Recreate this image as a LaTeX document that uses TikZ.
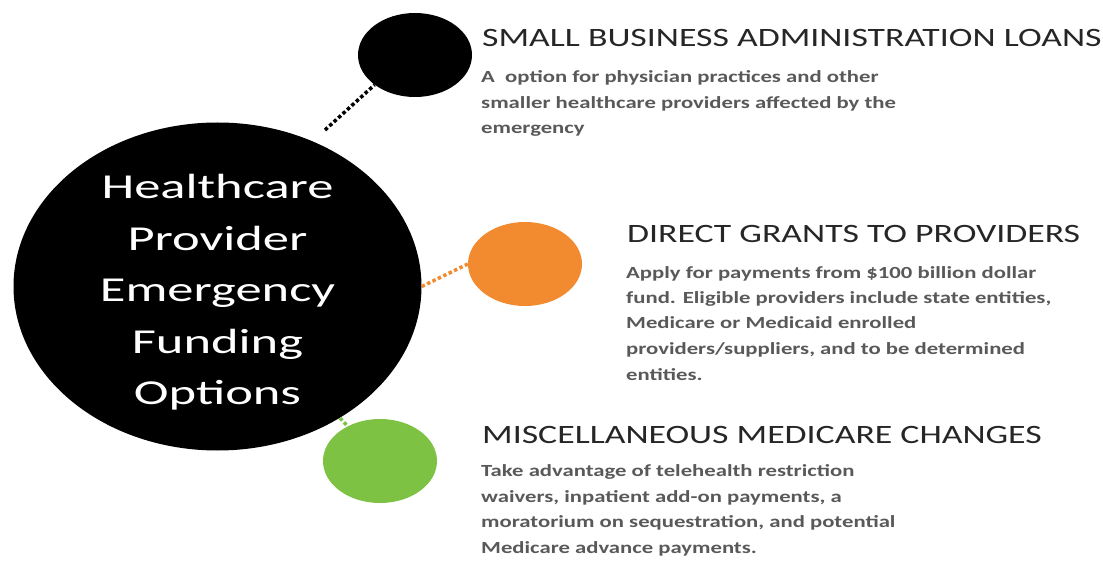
\documentclass[tikz,border=0pt]{standalone}
\usepackage{fontspec}
\setmainfont{Carlito}
\newfontfamily\headfont[FakeStretch=1.35]{Carlito}
\newfontfamily\bodyfont[FakeStretch=1.335]{Carlito}
\newfontfamily\titlefont[FakeStretch=1.5]{Carlito}
\usetikzlibrary{shapes.geometric,positioning}
\definecolor{grantorange}{HTML}{F28B30}
\definecolor{miscgreen}{HTML}{7DC242}
\definecolor{bodygray}{HTML}{595959}
\definecolor{headgray}{HTML}{262626}

\begin{document}
\begin{tikzpicture}[x=1pt,y=-1pt,
    big node/.style={ellipse,fill=black,inner sep=0,minimum width=408pt,minimum height=328pt},
    small node/.style={ellipse,inner sep=0,minimum width=114pt,minimum height=84pt},
    title text/.style={text=white,align=center,inner sep=0,font=\titlefont\fontsize{35}{51.5}\selectfont},
    head text/.style={anchor=base west,inner sep=0,text=headgray,font=\headfont\fontsize{26.5}{26.5}\selectfont},
    body text/.style={anchor=base west,inner sep=0,align=left,text=bodygray,font=\bodyfont\bfseries\fontsize{17}{25.5}\selectfont},
    dot line/.style={line width=3.5pt,dash pattern=on 3.5pt off 2.5pt}]

    \useasboundingbox (0,0) rectangle (1103,561);

    % circles
    \node[big node] (main) at (217.5,286.5) {};
    \node[title text] (title) at ([yshift=-6pt]main.center) {Healthcare\\Provider\\Emergency\\Funding\\Options};
    \node[small node,fill=black] (sba) at (415,55) {};
    \node[small node,fill=grantorange] (grants) at (525,264) {};
    \node[small node,fill=miscgreen] (misc) at (380,461) {};

    % connectors
    \coordinate (sbastart) at (325,130);
    \draw[dot line,black] (sbastart) -- (sba.south west);
    \draw[dot line,grantorange] (main.east) -- (grants.west);
    \draw[dot line,miscgreen] (main) -- (misc);

    % texts (body nodes sit on the baseline of their last line)
    \node[head text] (sbahead) at (482,47) {SMALL BUSINESS ADMINISTRATION LOANS};
    \node[body text] (sbabody) at (481,134) {A\ \ option for physician practices and other\\smaller healthcare providers affected by the\\emergency};

    \node[head text] (granthead) at (627,243) {DIRECT GRANTS TO PROVIDERS};
    \node[body text] (grantbody) at (626,380) {Apply for payments from \$100 billion dollar\\fund. Eligible providers include state entities,\\Medicare or Medicaid enrolled\\providers/suppliers, and to be determined\\entities.};

    \node[head text] (mischead) at (482,443) {MISCELLANEOUS MEDICARE CHANGES};
    \node[body text] (miscbody) at (481,553) {Take advantage of telehealth restriction\\waivers, inpatient add-on payments, a\\moratorium on sequestration, and potential\\Medicare advance payments.};
\end{tikzpicture}
\end{document}
